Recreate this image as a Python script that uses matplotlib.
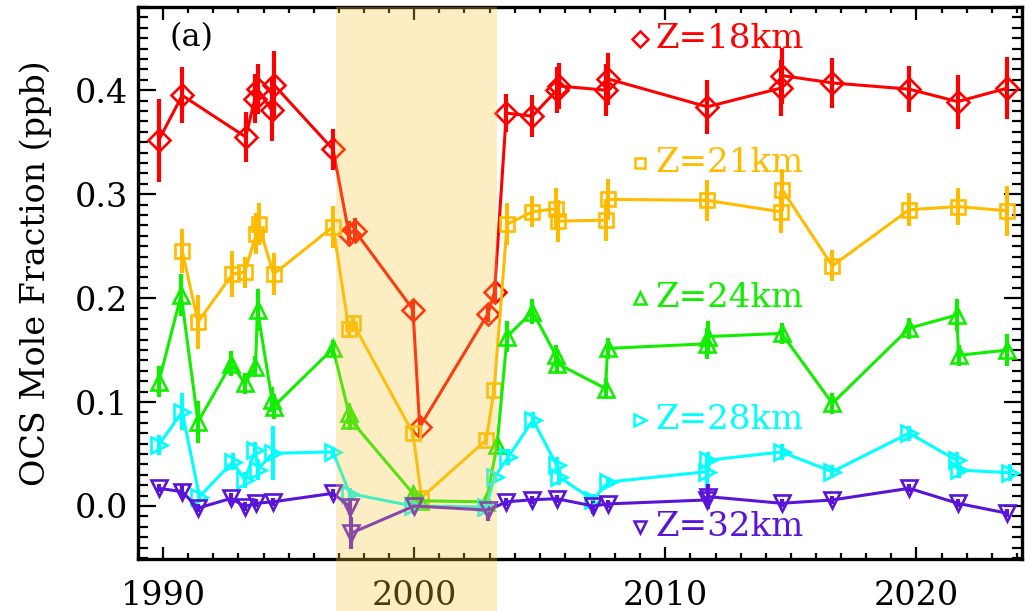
import numpy as np
import matplotlib
matplotlib.use("Agg")
import matplotlib.pyplot as plt
from matplotlib.patches import Rectangle
from matplotlib.ticker import MultipleLocator
import matplotlib.transforms as mtransforms

plt.rcParams['font.family'] = ['DejaVu Serif']

# OCS mole fraction (ppb) at five altitudes
yr_18 = [1989.83, 1990.76, 1993.29, 1993.66, 1993.76, 1994.32, 1994.42, 1996.77,
         1997.40, 1997.63, 1999.95, 2000.22, 2002.94, 2003.20, 2003.67, 2004.70,
         2005.68, 2005.78, 2007.62, 2007.70, 2011.67, 2014.60, 2014.66, 2016.65,
         2019.71, 2021.64, 2023.62]
ocs_18 = [0.352, 0.395, 0.355, 0.392, 0.401, 0.381, 0.405, 0.343,
          0.262, 0.265, 0.189, 0.076, 0.185, 0.206, 0.378, 0.375,
          0.400, 0.404, 0.400, 0.411, 0.384, 0.402, 0.414, 0.407,
          0.401, 0.389, 0.402]
err_18 = [0.040, 0.027, 0.024, 0.024, 0.024, 0.030, 0.033, 0.020,
          0.012, 0.012, 0.008, 0.008, 0.008, 0.010, 0.018, 0.020,
          0.022, 0.022, 0.025, 0.025, 0.026, 0.027, 0.027, 0.024,
          0.022, 0.026, 0.030]

yr_21 = [1990.76, 1991.39, 1992.76, 1993.25, 1993.72, 1993.80, 1994.40, 1996.77,
         1997.40, 1997.56, 1999.95, 2000.29, 2002.87, 2003.18, 2003.70, 2004.70,
         2005.65, 2005.73, 2007.62, 2007.70, 2011.67, 2014.60, 2014.66, 2016.65,
         2019.71, 2021.64, 2023.62]
ocs_21 = [0.2455, 0.177, 0.223, 0.225, 0.262, 0.271, 0.223, 0.2686,
          0.170, 0.176, 0.070, 0.008, 0.0635, 0.1115, 0.271, 0.283,
          0.286, 0.274, 0.275, 0.295, 0.294, 0.283, 0.304, 0.231,
          0.285, 0.288, 0.284]
err_21 = [0.021, 0.026, 0.022, 0.015, 0.020, 0.020, 0.020, 0.020,
          0.008, 0.008, 0.005, 0.004, 0.005, 0.006, 0.020, 0.015,
          0.020, 0.020, 0.020, 0.020, 0.020, 0.020, 0.020, 0.015,
          0.016, 0.018, 0.024]

yr_24 = [1989.83, 1990.72, 1991.39, 1992.72, 1993.25, 1993.68, 1993.76, 1994.34,
         1994.40, 1996.77, 1997.40, 1997.46, 1999.95, 2000.22, 2002.87, 2003.30,
         2003.70, 2004.71, 2005.64, 2005.70, 2007.62, 2007.70, 2011.64, 2011.70,
         2014.63, 2016.65, 2019.71, 2021.60, 2021.68, 2023.62]
ocs_24 = [0.1195, 0.203, 0.081, 0.137, 0.118, 0.134, 0.1885, 0.102,
          0.0955, 0.1516, 0.089, 0.083, 0.012, 0.005, 0.004, 0.0587,
          0.163, 0.187, 0.145, 0.137, 0.113, 0.1516, 0.156, 0.163,
          0.166, 0.0987, 0.171, 0.1837, 0.145, 0.150]
err_24 = [0.015, 0.020, 0.020, 0.012, 0.010, 0.010, 0.020, 0.012,
          0.012, 0.008, 0.010, 0.010, 0.004, 0.004, 0.004, 0.006,
          0.015, 0.012, 0.010, 0.010, 0.010, 0.010, 0.015, 0.015,
          0.010, 0.010, 0.010, 0.015, 0.010, 0.015]

yr_28 = [1989.83, 1990.76, 1991.45, 1992.78, 1993.25, 1993.68, 1993.76, 1994.37,
         1996.77, 1997.43, 1999.95, 2002.87, 2003.20, 2003.74, 2004.73, 2005.68,
         2005.76, 2007.12, 2007.72, 2011.64, 2011.70, 2014.63, 2016.65, 2019.71,
         2021.60, 2021.68, 2023.72]
ocs_28 = [0.0587, 0.0907, 0.009, 0.0426, 0.025, 0.054, 0.035, 0.0507,
          0.052, 0.012, 0.000, -0.001, 0.028, 0.047, 0.0827, 0.039,
          0.028, 0.006, 0.023, 0.033, 0.044, 0.052, 0.033, 0.070,
          0.044, 0.0346, 0.032]
err_28 = [0.010, 0.018, 0.005, 0.008, 0.008, 0.008, 0.010, 0.026,
          0.005, 0.005, 0.003, 0.003, 0.005, 0.008, 0.008, 0.008,
          0.008, 0.006, 0.005, 0.018, 0.008, 0.008, 0.006, 0.007,
          0.008, 0.008, 0.008]

yr_32 = [1989.83, 1990.76, 1991.39, 1992.72, 1993.25, 1993.71, 1994.37, 1996.77,
         1997.43, 1997.50, 2000.00, 2002.94, 2003.67, 2004.70, 2005.67, 2007.12,
         2007.72, 2011.64, 2011.70, 2014.63, 2016.65, 2019.71, 2021.64, 2023.62]
ocs_32 = [0.017, 0.0138, -0.002, 0.0074, -0.0006, 0.0026, 0.004, 0.0122,
          -0.0006, -0.026, 0.000, -0.004, 0.004, 0.006, 0.007, 0.000,
          0.002, 0.0058, 0.009, 0.0026, 0.0058, 0.017, 0.0026, -0.007]
err_32 = [0.004, 0.006, 0.004, 0.005, 0.004, 0.004, 0.004, 0.004,
          0.008, 0.015, 0.008, 0.010, 0.004, 0.004, 0.004, 0.008,
          0.004, 0.004, 0.012, 0.004, 0.004, 0.004, 0.004, 0.004]

# period without data (shaded)
gap_start, gap_end = 1996.87, 2003.29

series = [
    ("Z=18km", yr_18, ocs_18, err_18, "#FF0000", "D", 11),
    ("Z=21km", yr_21, ocs_21, err_21, "#FFBB00", "s", 10.5),
    ("Z=24km", yr_24, ocs_24, err_24, "#11EE00", "^", 11.5),
    ("Z=28km", yr_28, ocs_28, err_28, "#00FFFF", ">", 11.5),
    ("Z=32km", yr_32, ocs_32, err_32, "#5A14D8", "v", 11.5),
]
label_y = [0.942, 0.717, 0.473, 0.252, 0.058]

fig = plt.figure(figsize=(10.25, 6.11), dpi=100)
ax = fig.add_axes([0.1346, 0.0851, 0.8624, 0.9034])

for (name, x, y, e, c, m, ms), ly in zip(series, label_y):
    ax.errorbar(x, y, yerr=e, color=c, lw=2.2, marker=m, ms=ms, mfc='none',
                mec=c, mew=1.9, elinewidth=3.0, capsize=0, zorder=3)
    ax.plot([0.568], [ly], transform=ax.transAxes, marker=m, ms=ms - 3,
            mfc='none', mec=c, mew=1.8, ls='none', clip_on=False)
    ax.text(0.585, ly, name, transform=ax.transAxes, color=c, fontsize=24.5,
            va='center', ha='left')

ax.text(0.036, 0.944, "(a)", transform=ax.transAxes, fontsize=23,
        va='center', ha='left')

# shade drawn over everything, running down through the tick labels
trans = mtransforms.blended_transform_factory(ax.transData, ax.transAxes)
ax.add_patch(Rectangle((gap_start, -0.1), gap_end - gap_start, 1.1,
                       transform=trans, facecolor=(248/255, 198/255, 58/255),
                       edgecolor='none', alpha=0.3, zorder=10, clip_on=False))

ax.set_xlim(1989.0, 2024.2)
ax.set_ylim(-0.051, 0.48)
ax.xaxis.set_major_locator(MultipleLocator(10))
ax.xaxis.set_minor_locator(MultipleLocator(1))
ax.yaxis.set_major_locator(MultipleLocator(0.1))
ax.yaxis.set_minor_locator(MultipleLocator(0.01))
ax.yaxis.set_major_formatter(plt.FormatStrFormatter('%.1f'))

ax.tick_params(axis='both', which='both', direction='in', top=True, right=True,
               width=1.6, labelsize=24)
ax.tick_params(axis='x', which='major', length=9, pad=15)
ax.tick_params(axis='x', which='minor', length=4.5)
ax.tick_params(axis='y', which='major', length=13, pad=7)
ax.tick_params(axis='y', which='minor', length=7)
for sp in ax.spines.values():
    sp.set_linewidth(2.4)

ax.set_ylabel("OCS Mole Fraction (ppb)", fontsize=24)
ax.yaxis.set_label_coords(-0.097, 0.517)

fig.savefig("out.png", dpi=100)
